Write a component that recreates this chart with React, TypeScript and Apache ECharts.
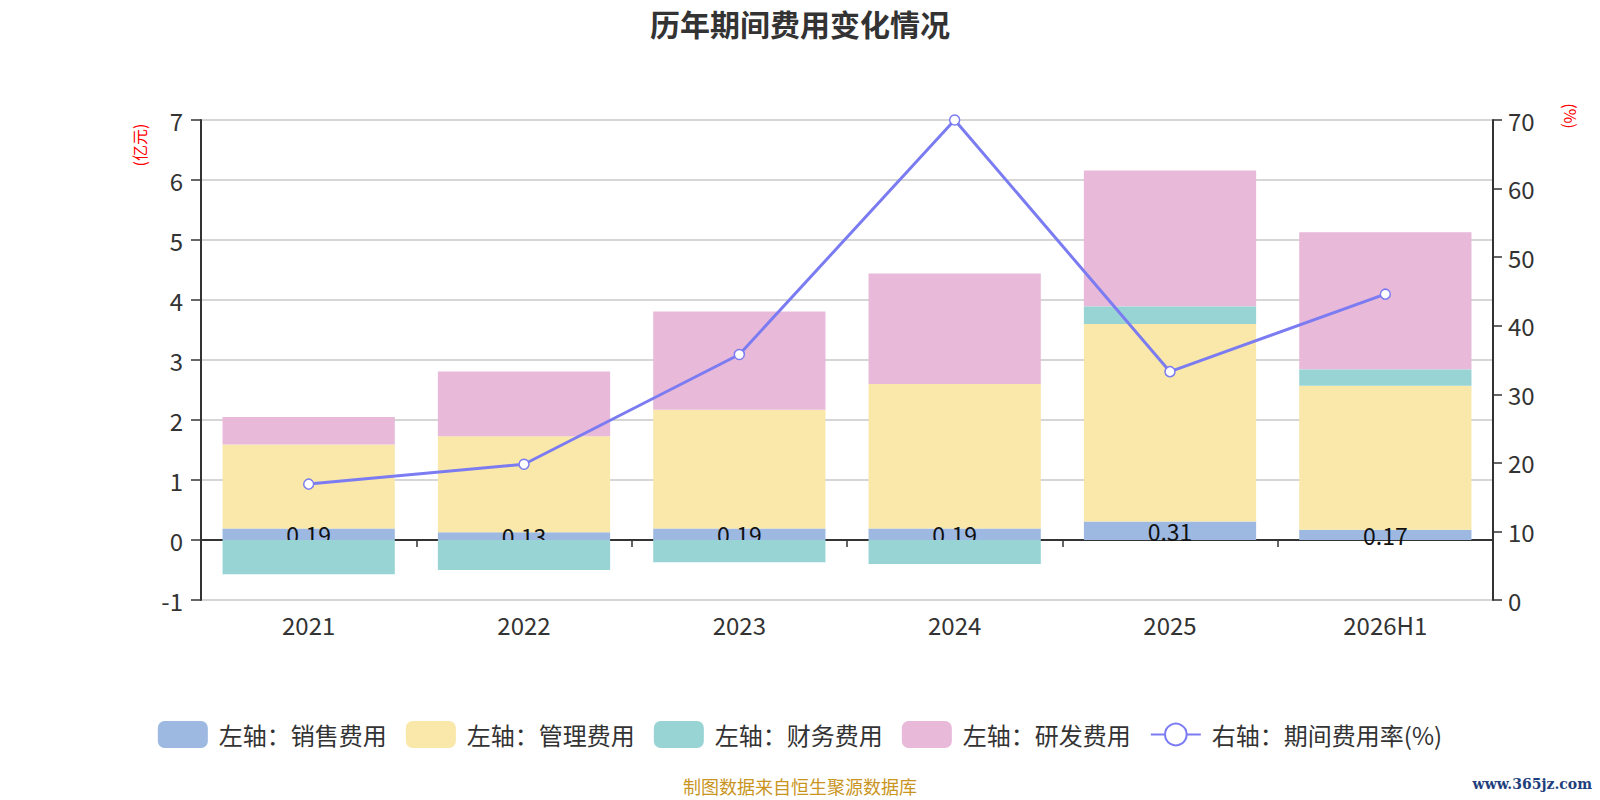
import React, { useEffect, useRef } from 'react'
import * as echarts from 'echarts'

const years = ['2021', '2022', '2023', '2024', '2025', '2026H1']
const salesCost = [0.19, 0.13, 0.19, 0.19, 0.31, 0.17]
const adminCost = [1.4, 1.6, 1.98, 2.41, 3.29, 2.4]
const financeCost = [-0.57, -0.5, -0.37, -0.4, 0.29, 0.27]
const rdCost = [0.46, 1.08, 1.64, 1.84, 2.27, 2.29]
const expenseRate = [16.9, 19.8, 35.8, 70.0, 33.3, 44.6]

const FONT = '"Noto Sans CJK SC", "Noto Sans", sans-serif'

const App: React.FC = () => {
  const chartRef = useRef<HTMLDivElement>(null)

  useEffect(() => {
    document.body.style.margin = '0'
    if (!chartRef.current) return
    const chart = echarts.init(chartRef.current, undefined, { renderer: 'svg' })

    const barBase = {
      type: 'bar',
      stack: 'cost',
      xAxisIndex: 0,
      yAxisIndex: 0,
      barWidth: '80%',
    }

    const option = {
      animation: false,
      textStyle: { fontFamily: FONT },
      title: {
        text: '历年期间费用变化情况',
        left: 'center',
        top: 3,
        textStyle: { fontSize: 30, fontWeight: 'bold', color: '#333', fontFamily: FONT },
      },
      legend: {
        top: 716,
        left: 'center',
        itemWidth: 50,
        itemHeight: 27,
        itemGap: 19,
        textStyle: { fontSize: 24, color: '#333', fontFamily: FONT, padding: [0, 0, 0, 6] },
        data: [
          { name: '左轴：销售费用', icon: 'roundRect' },
          { name: '左轴：管理费用', icon: 'roundRect' },
          { name: '左轴：财务费用', icon: 'roundRect' },
          { name: '左轴：研发费用', icon: 'roundRect' },
          { name: '右轴：期间费用率(%)' },
        ],
      },
      grid: { left: 201, right: 107, top: 120, bottom: 200 },
      xAxis: [
        {
          type: 'category',
          data: years,
          position: 'bottom',
          axisLine: { show: false, onZero: false },
          axisTick: { show: false },
          axisLabel: { fontSize: 24, color: '#333', margin: 12 },
        },
        {
          type: 'category',
          data: years,
          position: 'bottom',
          axisLine: { show: true, onZero: true, lineStyle: { color: '#333', width: 2 } },
          axisTick: { show: true, length: 7, lineStyle: { color: '#333', width: 1.5 } },
          axisLabel: { show: false },
        },
      ],
      yAxis: [
        {
          type: 'value',
          min: -1,
          max: 7,
          interval: 1,
          axisLine: { show: true, lineStyle: { color: '#333', width: 2 } },
          axisTick: { show: true, length: 10, lineStyle: { color: '#333', width: 1.5 } },
          axisLabel: { fontSize: 24, color: '#333', margin: 18 },
          splitLine: { show: true, lineStyle: { color: '#c8c8c8', width: 1.5 } },
        },
        {
          type: 'value',
          min: 0,
          max: 70,
          interval: 10,
          position: 'right',
          axisLine: { show: true, lineStyle: { color: '#333', width: 2 } },
          axisTick: { show: true, length: 9, lineStyle: { color: '#333', width: 1.5 } },
          axisLabel: { fontSize: 24, color: '#333', margin: 15 },
          splitLine: { show: false },
        },
      ],
      series: [
        {
          ...barBase,
          name: '左轴：销售费用',
          data: salesCost,
          itemStyle: { color: '#9db9e2' },
          label: {
            show: true,
            position: 'inside',
            fontSize: 23,
            color: '#111',
            formatter: (p: any) => p.value.toFixed(2),
          },
        },
        {
          ...barBase,
          name: '左轴：管理费用',
          data: adminCost,
          itemStyle: { color: '#f9e8a9' },
        },
        {
          ...barBase,
          name: '左轴：财务费用',
          data: financeCost,
          z: 3,
          itemStyle: { color: '#99d4d5' },
        },
        {
          ...barBase,
          name: '左轴：研发费用',
          data: rdCost,
          itemStyle: { color: '#e8b9d9' },
        },
        {
          type: 'line',
          name: '右轴：期间费用率(%)',
          xAxisIndex: 0,
          yAxisIndex: 1,
          data: expenseRate,
          z: 5,
          symbol: 'circle',
          symbolSize: 10,
          lineStyle: { color: '#7b7bf2', width: 3 },
          itemStyle: { color: '#fff', borderColor: '#7b7bf2', borderWidth: 1.5 },
        },
      ],
      graphic: [
        {
          type: 'text',
          x: 139,
          y: 145,
          rotation: Math.PI / 2,
          style: {
            text: '(亿元)',
            fill: '#ff0000',
            fontSize: 16,
            fontFamily: FONT,
            align: 'center',
            verticalAlign: 'middle',
          },
        },
        {
          type: 'text',
          x: 1571,
          y: 116,
          rotation: -Math.PI / 2,
          style: {
            text: '(%)',
            fill: '#ff0000',
            fontSize: 16,
            fontFamily: FONT,
            align: 'center',
            verticalAlign: 'middle',
          },
        },
        {
          type: 'text',
          x: 800,
          y: 786,
          style: {
            text: '制图数据来自恒生聚源数据库',
            fill: '#c9951f',
            fontSize: 18,
            fontFamily: FONT,
            align: 'center',
            verticalAlign: 'middle',
          },
        },
        {
          type: 'text',
          x: 1592,
          y: 784,
          style: {
            text: 'www.365jz.com',
            fill: '#1f3f7d',
            fontSize: 14,
            fontWeight: 'bold',
            fontFamily: '"DejaVu Serif", serif',
            align: 'right',
            verticalAlign: 'middle',
          },
        },
      ],
    }

    chart.setOption(option as any)
    return () => {
      chart.dispose()
    }
  }, [])

  return <div ref={chartRef} style={{ width: 1600, height: 800 }} />
}

export default App
